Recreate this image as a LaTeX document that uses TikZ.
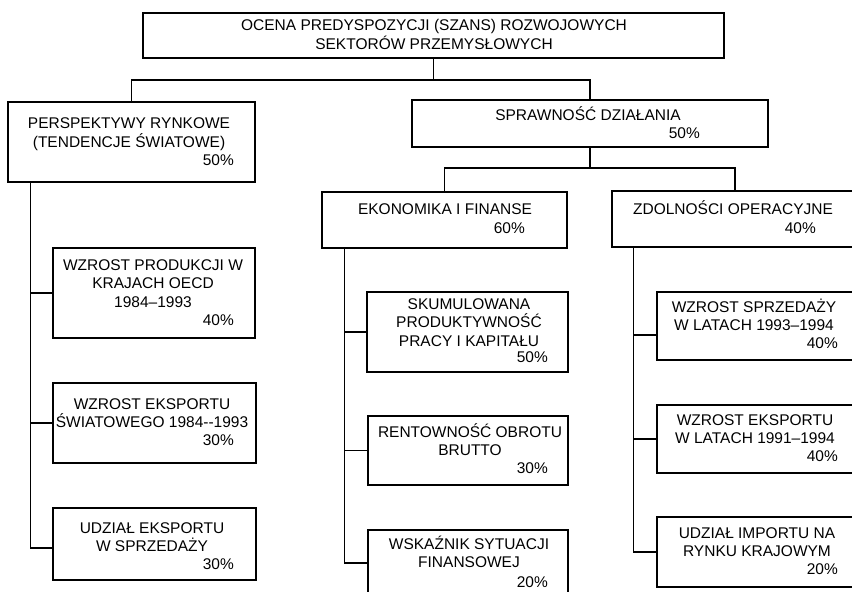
\documentclass[tikz,border=0pt]{standalone}
\usepackage{fontspec}
\setmainfont{Liberation Sans}
\begin{document}
\begin{tikzpicture}[x=1pt,y=-1pt,
  box/.style={draw=black, line width=1.1pt, inner sep=0pt, rectangle},
  txt/.style={inner sep=0pt, align=center, anchor=base,
    font=\fontsize{15.5}{18.5}\selectfont},
  pct/.style={inner sep=0pt, anchor=base east, font=\fontsize{15.5}{18.5}\selectfont},
  conn/.style={draw=black, line width=1.1pt}]
\useasboundingbox (0,0) rectangle (852,592);
% boxes
\node[box, minimum width=581pt, minimum height=45pt] (T) at (433.5,35.5) {};
\node[box, minimum width=247pt, minimum height=80pt] (L) at (131.5,142) {};
\node[box, minimum width=356pt, minimum height=47pt] (R) at (590,123.5) {};
\node[box, minimum width=245pt, minimum height=56pt] (E) at (444.5,220) {};
\node[box, minimum width=246pt, minimum height=56pt] (Z) at (735,219) {};
\node[box, minimum width=202pt, minimum height=90pt] (L1) at (154,293) {};
\node[box, minimum width=203pt, minimum height=80pt] (L2) at (154.5,423) {};
\node[box, minimum width=203pt, minimum height=72pt] (L3) at (154.5,544) {};
\node[box, minimum width=201pt, minimum height=80pt] (E1) at (467.5,332) {};
\node[box, minimum width=200pt, minimum height=69pt] (E2) at (468,450.5) {};
\node[box, minimum width=200pt, minimum height=66pt] (E3) at (468,563) {};
\node[box, minimum width=203pt, minimum height=68pt] (Z1) at (758.5,326) {};
\node[box, minimum width=203pt, minimum height=68pt] (Z2) at (758.5,439) {};
\node[box, minimum width=203pt, minimum height=70pt] (Z3) at (758.5,552) {};
% texts (anchor base = baseline of the last line)
\node[txt] (Tt) at (434,49) {OCENA PREDYSPOZYCJI (SZANS) ROZWOJOWYCH\\SEKTORÓW PRZEMYSŁOWYCH};
\node[txt] (Lt) at (129,147) {PERSPEKTYWY RYNKOWE\\(TENDENCJE ŚWIATOWE)};
\node[pct] (Lp) at (234,165.4) {50\%};
\node[txt] (Rt) at (588,120.4) {SPRAWNOŚĆ DZIAŁANIA};
\node[pct] (Rp) at (700,138.4) {50\%};
\node[txt] (Et) at (445,214.4) {EKONOMIKA I FINANSE};
\node[pct] (Ep) at (525,233.4) {60\%};
\node[txt] (Zt) at (733,214.4) {ZDOLNOŚCI OPERACYJNE};
\node[pct] (Zp) at (816,233.4) {40\%};
\node[txt] (L1t) at (153,307.4) {WZROST PRODUKCJI W\\KRAJACH OECD\\1984–1993};
\node[pct] (L1p) at (234,325.4) {40\%};
\node[txt] (L2t) at (152,427.9) {WZROST EKSPORTU\\ŚWIATOWEGO 1984-{}-1993};
\node[pct] (L2p) at (234,445.4) {30\%};
\node[txt] (L3t) at (152,551.9) {UDZIAŁ EKSPORTU\\W SPRZEDAŻY};
\node[pct] (L3p) at (234,569.4) {30\%};
\node[txt] (E1t) at (469,346.4) {SKUMULOWANA\\PRODUKTYWNOŚĆ\\PRACY I KAPITAŁU};
\node[pct] (E1p) at (548,362.4) {50\%};
\node[txt] (E2t) at (470,455.9) {RENTOWNOŚĆ OBROTU\\BRUTTO};
\node[pct] (E2p) at (548,473.4) {30\%};
\node[txt] (E3t) at (469,567.9) {WSKAŹNIK SYTUACJI\\FINANSOWEJ};
\node[pct] (E3p) at (548,587.4) {20\%};
\node[txt] (Z1t) at (754,330.9) {WZROST SPRZEDAŻY\\W LATACH 1993–1994};
\node[pct] (Z1p) at (838,348.4) {40\%};
\node[txt] (Z2t) at (755,443.9) {WZROST EKSPORTU\\W LATACH 1991–1994};
\node[pct] (Z2p) at (838,461.4) {40\%};
\node[txt] (Z3t) at (757,556.9) {UDZIAŁ IMPORTU NA\\RYNKU KRAJOWYM};
\node[pct] (Z3p) at (838,574.4) {20\%};
% connectors
\coordinate (j1) at (0,80);
\coordinate (j2) at (0,168);
\draw[conn] (T.south) -- (T.south |- j1);
\draw[conn] (L.north) -- (L.north |- j1) -| (R.north);
\draw[conn] (R.south) -- (R.south |- j2);
\draw[conn] (E.north) -- (E.north |- j2) -| (Z.north);
\coordinate (lb) at ([xshift=23pt]L.south west);
\coordinate (l3c) at (0,548);
\draw[conn] (lb) |- (L3.west |- l3c);
\draw[conn] (lb |- L1.west) -- (L1.west);
\draw[conn] (lb |- L2.west) -- (L2.west);
\coordinate (eb) at ([xshift=23pt]E.south west);
\draw[conn] (eb) |- (E3.west);
\draw[conn] (eb |- E1.west) -- (E1.west);
\draw[conn] (eb |- E2.west) -- (E2.west);
\coordinate (zb) at ([xshift=22pt]Z.south west);
\coordinate (z1c) at (0,335);
\draw[conn] (zb) |- (Z3.west);
\draw[conn] (zb |- z1c) -- (Z1.west |- z1c);
\draw[conn] (zb |- Z2.west) -- (Z2.west);
\end{tikzpicture}
\end{document}
